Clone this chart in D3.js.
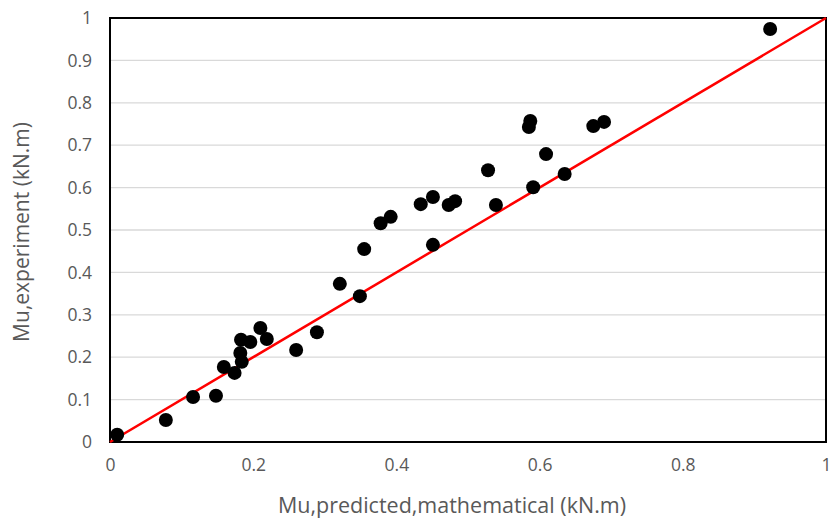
<!DOCTYPE html>
<html>
<head>
<meta charset="utf-8">
<script src="https://cdn.jsdelivr.net/npm/d3@7"></script>
<style>
  body { margin: 0; background: #fff; }
  text { font-family: "Open Sans", "Noto Sans", sans-serif; fill: #595959; }
</style>
</head>
<body>
<div id="chart"></div>
<script>
// measured points (predicted vs experiment)
var predicted = [0.010, 0.078, 0.116, 0.148, 0.159, 0.174, 0.184, 0.182, 0.183, 0.196, 0.210, 0.219,
                 0.260, 0.289, 0.321, 0.349, 0.355, 0.378, 0.392, 0.434, 0.451, 0.451, 0.473, 0.482,
                 0.528, 0.539, 0.585, 0.587, 0.591, 0.609, 0.635, 0.675, 0.690, 0.922];
var experiment = [0.017, 0.052, 0.106, 0.109, 0.177, 0.163, 0.189, 0.210, 0.241, 0.236, 0.269, 0.243,
                  0.217, 0.259, 0.373, 0.344, 0.455, 0.516, 0.531, 0.561, 0.578, 0.465, 0.559, 0.568,
                  0.641, 0.559, 0.743, 0.757, 0.601, 0.679, 0.632, 0.745, 0.755, 0.974];
var xTicks = [0, 0.2, 0.4, 0.6, 0.8, 1];
var yTicks = [0, 0.1, 0.2, 0.3, 0.4, 0.5, 0.6, 0.7, 0.8, 0.9, 1];

var margin = {top: 18, right: 6, bottom: 80, left: 110},
    width = 832 - margin.left - margin.right,
    height = 522 - margin.top - margin.bottom;

var xScale = d3.scaleLinear().domain([0, 1]).range([0, width]);
var yScale = d3.scaleLinear().domain([0, 1]).range([height, 0]);

var svg = d3.select("#chart").append("svg")
    .attr("width", 832)
    .attr("height", 522)
  .append("g")
    .attr("transform", "translate(" + margin.left + "," + margin.top + ")");

// horizontal gridlines
svg.selectAll(".grid")
    .data(yTicks.slice(1, -1))
  .enter().append("line")
    .attr("x1", 0)
    .attr("x2", width)
    .attr("y1", d => yScale(d))
    .attr("y2", d => yScale(d))
    .style("stroke", "#d9d9d9")
    .style("stroke-width", 1.3);

var xAxis = svg.append("g")
    .attr("transform", "translate(0," + height + ")")
    .call(d3.axisBottom(xScale).tickValues(xTicks).tickSize(0).tickPadding(17).tickFormat(d3.format("")));
var yAxis = svg.append("g")
    .call(d3.axisLeft(yScale).tickValues(yTicks).tickSize(0).tickPadding(18).tickFormat(d3.format("")));
[xAxis, yAxis].forEach(a => {
  a.select(".domain").remove();
  a.selectAll("text").style("font-size", "17.5px").style("fill", "#595959");
});

// plot border
svg.append("rect")
    .attr("width", width)
    .attr("height", height)
    .style("fill", "none")
    .style("stroke", "#000")
    .style("stroke-width", 2);

// 1:1 line
svg.append("line")
    .attr("x1", xScale(0)).attr("y1", yScale(0))
    .attr("x2", xScale(1)).attr("y2", yScale(1))
    .style("stroke", "#ff0000")
    .style("stroke-width", 2.5);

svg.selectAll(".dot")
    .data(predicted.map((p, i) => [p, experiment[i]]))
  .enter().append("circle")
    .attr("cx", d => xScale(d[0]))
    .attr("cy", d => yScale(d[1]))
    .attr("r", 7)
    .style("fill", "#000");

svg.append("text")
    .attr("x", width / 2 - 16)
    .attr("y", height + 71)
    .attr("text-anchor", "middle")
    .style("font-size", "21.5px")
    .text("Mu,predicted,mathematical (kN.m)");

svg.append("text")
    .attr("transform", "translate(" + (-81) + "," + (height / 2 + 2) + ") rotate(-90)")
    .attr("text-anchor", "middle")
    .style("font-size", "21px")
    .text("Mu,experiment (kN.m)");
</script>
</body>
</html>
